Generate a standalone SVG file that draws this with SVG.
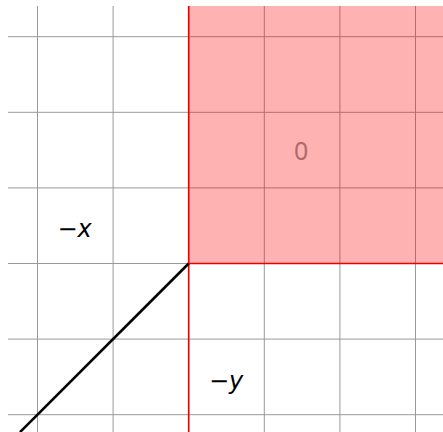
<svg xmlns="http://www.w3.org/2000/svg" width="443" height="432" viewBox="0 0 443 432">
<style>
.grid{stroke:#9a9a9a;stroke-width:1;fill:none}
.red{stroke:#ee0000;stroke-width:1.6;fill:none}
.lbl{font-family:"DejaVu Sans",sans-serif;font-size:24px;fill:#000}
</style>
<rect width="443" height="432" fill="#fff"/>
<g id="grid" class="grid">
<line x1="37.5" y1="6" x2="37.5" y2="432"/>
<line x1="113.1" y1="6" x2="113.1" y2="432"/>
<line x1="188.7" y1="6" x2="188.7" y2="432"/>
<line x1="264.3" y1="6" x2="264.3" y2="432"/>
<line x1="339.9" y1="6" x2="339.9" y2="432"/>
<line x1="415.5" y1="6" x2="415.5" y2="432"/>
<line x1="8" y1="36.7" x2="443" y2="36.7"/>
<line x1="8" y1="112.3" x2="443" y2="112.3"/>
<line x1="8" y1="187.9" x2="443" y2="187.9"/>
<line x1="8" y1="263.5" x2="443" y2="263.5"/>
<line x1="8" y1="339.1" x2="443" y2="339.1"/>
<line x1="8" y1="414.7" x2="443" y2="414.7"/>
</g>
<g id="region0">
<rect x="188.7" y="6" width="254.3" height="257.5" fill="#ff0000" fill-opacity="0.3"/>
<text x="301.2" y="160.3" font-family="Noto Sans, sans-serif" font-size="25" fill="#b06a6a" text-anchor="middle">0</text>
</g>
<g id="connectors">
<line class="red" x1="188.7" y1="6" x2="188.7" y2="432"/>
<line class="red" x1="188.7" y1="263.5" x2="443" y2="263.5"/>
<line x1="188.7" y1="263.5" x2="20" y2="432.2" stroke="#000" stroke-width="2.5"/>
</g>
<g id="label-x"><text class="lbl" x="57.5" y="236.7">−<tspan font-style="italic">x</tspan></text></g>
<g id="label-y"><text class="lbl" x="209" y="388.7">−<tspan font-style="italic">y</tspan></text></g>
</svg>
